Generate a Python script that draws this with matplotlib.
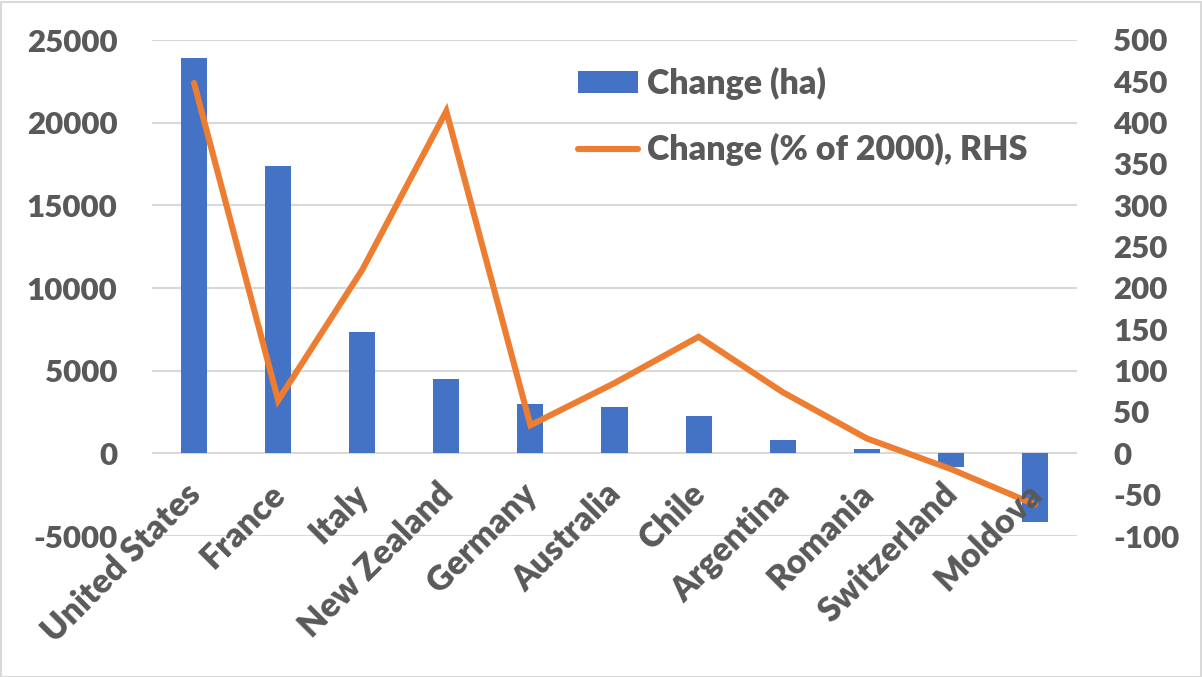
import matplotlib.pyplot as plt
from matplotlib.patches import Rectangle, Patch
from matplotlib.lines import Line2D

# Vineyard area change by country
countries = ["United States", "France", "Italy", "New Zealand", "Germany",
             "Australia", "Chile", "Argentina", "Romania", "Switzerland", "Moldova"]
change_ha = [23900, 17370, 7310, 4500, 2985, 2800, 2260, 830, 260, -830, -4160]
change_pct = [448, 64, 222, 414, 34, 85, 141, 74, 18, -19, -62]

blue = "#4472C4"
orange = "#ED7D31"
grey_text = "#595959"
grid_col = "#D9D9D9"
fs_num = 22.5   # tick numbers
fs_txt = 24.5   # category names and legend

plt.rcParams["font.family"] = ["Lato", "DejaVu Sans"]
plt.rcParams["font.weight"] = "heavy"
plt.rcParams["axes.unicode_minus"] = False

W, H = 1202, 677
fig = plt.figure(figsize=(W / 100, H / 100), dpi=100)
ax = fig.add_axes([152 / W, 1 - 536 / H, 925 / W, 496 / H])
ax2 = ax.twinx()

ax.set_xlim(-0.5, len(countries) - 0.5)
ax.set_ylim(-5000, 25000)
ax2.set_ylim(-100, 500)

x = list(range(len(countries)))
yticks = list(range(-5000, 25001, 5000))
for yv in yticks:
    ax.axhline(yv, color=grid_col, linewidth=1.5, zorder=0)
ax.bar(x, change_ha, width=0.31, color=blue, zorder=2)
# line lives on ax (RHS scale) so the category names can sit on top of it
ax.plot(x, change_pct, color=orange, linewidth=4.4, solid_capstyle="round",
        solid_joinstyle="miter", zorder=2.2, transform=ax2.transData)

ax.set_yticks(yticks)
ax2.set_yticks(range(-100, 501, 50))

for a in (ax, ax2):
    for s in a.spines.values():
        s.set_visible(False)

# category names hang below the zero line, like Excel does
ax.set_xticks([])
for i, name in zip(x, countries):
    ax.annotate(name, xy=(i, 0), xytext=(-7, -17.5), textcoords="offset points",
                rotation=45, ha="right", va="top", rotation_mode="anchor",
                fontsize=fs_txt, color=grey_text, fontweight="heavy",
                zorder=2.5, annotation_clip=False)

ax.tick_params(axis="y", length=0, pad=25, labelsize=fs_num, labelcolor=grey_text)
ax2.tick_params(axis="y", length=0, pad=26, labelsize=fs_num, labelcolor=grey_text)
for lab in ax2.get_yticklabels():
    lab.set_horizontalalignment("left")

handles = [Patch(facecolor=blue, edgecolor="none"),
           Line2D([0], [0], color=orange, linewidth=4.4, solid_capstyle="round")]
leg = ax2.legend(handles, ["Change (ha)", "Change (% of 2000), RHS"],
                 loc="upper left", bbox_to_anchor=(578 / W, 1 - 67 / H),
                 bbox_transform=fig.transFigure, frameon=False, fontsize=fs_txt,
                 handlelength=1.76, handleheight=0.62, handletextpad=0.26,
                 labelspacing=0.97, borderaxespad=0, borderpad=0)
for t in leg.get_texts():
    t.set_color(grey_text)

fig.add_artist(Rectangle((0.5 / W, 0.5 / H), 1 - 2 / W, 1 - 2 / H,
                         transform=fig.transFigure, fill=False,
                         edgecolor=grid_col, linewidth=1.5))

fig.savefig("out.png", dpi=100)
